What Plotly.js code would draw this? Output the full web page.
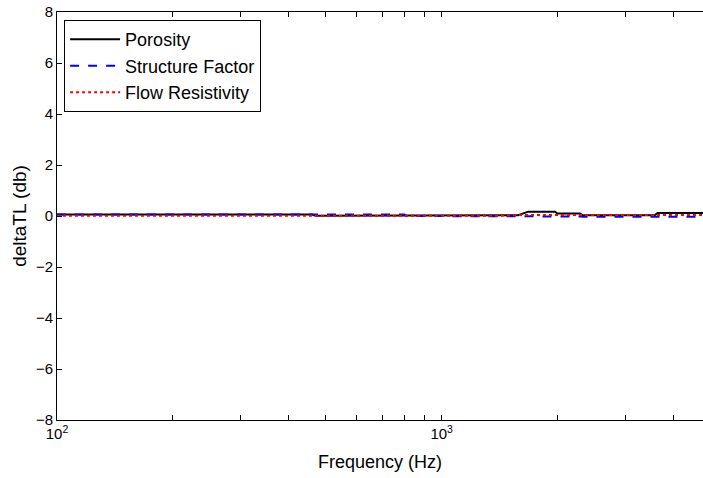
<!DOCTYPE html>
<html>
<head>
<meta charset="utf-8">
<script src="https://cdn.plot.ly/plotly-3.0.1.min.js"></script>
<style>html,body{margin:0;padding:0;background:#fff;overflow:hidden}</style>
</head>
<body>
<div id="chart" style="width:703px;height:478px"></div>
<script>
// Frequency points (Hz)
const freq = [100, 200, 300, 460, 470, 600, 800, 810, 1000, 1420, 1580, 1680, 1970, 2000, 2290, 2330, 3000, 3580, 3640, 4200, 4780];
// deltaTL (db) per series
const porosity   = [0.06, 0.06, 0.06, 0.06, 0.01, 0.01, 0.01, 0.01, 0.01, 0.01, 0.03, 0.17, 0.17, 0.10, 0.10, 0.03, 0.03, 0.03, 0.12, 0.12, 0.12];
const structure  = [0.06, 0.06, 0.06, 0.06, 0.06, 0.06, 0.06, 0.00, 0.00, 0.00, -0.02, -0.02, -0.02, -0.02, -0.02, -0.03, -0.03, -0.03, -0.03, -0.03, -0.03];
const flowRes    = [0.01, 0.01, 0.01, 0.01, 0.01, 0.01, 0.01, 0.01, 0.01, 0.01, 0.04, 0.04, 0.04, 0.05, 0.05, 0.04, 0.04, 0.04, 0.04, 0.04, 0.04];
const names = ['Porosity', 'Structure Factor', 'Flow Resistivity'];
const xTickVals = [100, 200, 300, 400, 500, 600, 700, 800, 900, 1000, 2000, 3000, 4000];
const xTickText = ['10<sup>2</sup>', '', '', '', '', '', '', '', '', '10<sup>3</sup>', '', '', ''];
const yTickVals = [-8, -6, -4, -2, 0, 2, 4, 6, 8];

const fam = 'Liberation Sans, Arial, sans-serif';

const traces = [
  {x: freq, y: porosity, name: names[0], mode: 'lines', line: {color: '#000000', width: 2, dash: 'solid'}},
  {x: freq, y: structure, name: names[1], mode: 'lines', line: {color: '#0000ff', width: 2, dash: 'dash'}},
  {x: freq, y: flowRes, name: names[2], mode: 'lines', line: {color: '#ff0000', width: 2, dash: 'dot'}}
];

const layout = {
  width: 703, height: 478,
  margin: {l: 57, r: 0, t: 12, b: 58},
  paper_bgcolor: '#fff', plot_bgcolor: '#fff',
  font: {family: fam, size: 15, color: '#000'},
  showlegend: true,
  legend: {
    x: 0.011, y: 0.98, xanchor: 'left', yanchor: 'top',
    bgcolor: '#fff', bordercolor: '#000', borderwidth: 1,
    itemwidth: 50,
    font: {family: fam, size: 18, color: '#000'}
  },
  xaxis: {
    type: 'log', range: [2, Math.log10(4780)],
    tickmode: 'array', tickvals: xTickVals, ticktext: xTickText,
    ticks: 'inside', ticklen: 5, tickcolor: '#000',
    showline: true, linecolor: '#000', linewidth: 1, mirror: 'ticks',
    showgrid: false, zeroline: false, automargin: false,
    tickfont: {family: fam, size: 15, color: '#000'},
    title: {text: 'Frequency (Hz)', font: {family: fam, size: 18, color: '#000'}, standoff: 14}
  },
  yaxis: {
    range: [-8, 8],
    tickmode: 'array', tickvals: yTickVals,
    ticks: 'inside', ticklen: 5, tickcolor: '#000',
    showline: true, linecolor: '#000', linewidth: 1,
    showgrid: false, zeroline: false, automargin: false,
    tickfont: {family: fam, size: 15, color: '#000'},
    title: {text: 'deltaTL (db)', font: {family: fam, size: 19, color: '#000'}, standoff: 4}
  }
};

Plotly.newPlot('chart', traces, layout, {displayModeBar: false, staticPlot: true});
</script>
</body>
</html>
